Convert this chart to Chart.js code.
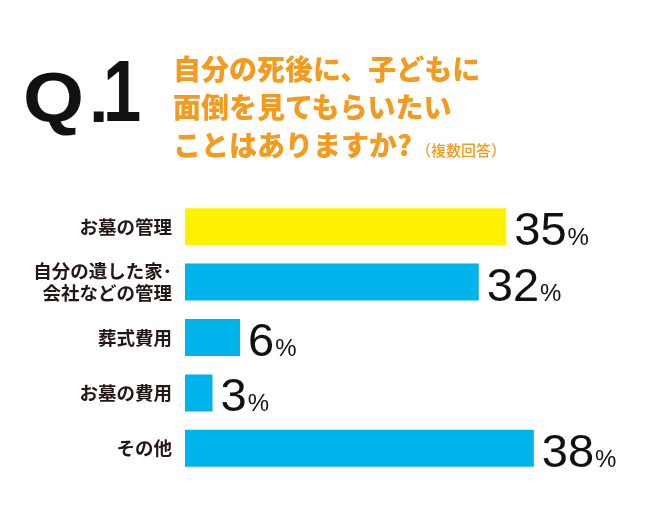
<!DOCTYPE html>
<html>
<head>
<meta charset="utf-8">
<script src="https://cdn.jsdelivr.net/npm/chart.js@4.4.0/dist/chart.umd.min.js"></script>
<style>
  html, body { margin: 0; padding: 0; background: #fff; }
  #wrap { position: relative; width: 650px; height: 522px; overflow: hidden; }
  #chartCanvas { position: absolute; left: 0; top: 0; }
  .q { position: absolute; font-family: "Liberation Sans", Arial, sans-serif; font-weight: bold; color: #111; line-height: 1; white-space: nowrap; transform-origin: 0 0; }
  .ttl { position: absolute; left: 173px; font-family: "Noto Sans CJK JP", sans-serif; font-weight: 900; font-size: 28px; line-height: 38px; color: #f39a1f; white-space: nowrap; }
  .note { font-size: 15px; font-weight: 500; margin-left: 4px; }
</style>
</head>
<body>
<div id="wrap">
  <canvas id="chartCanvas" width="650" height="522"></canvas>
  <div class="q" style="left:23px; top:63px; font-size:70px; transform:scaleX(1.12);">Q</div>
  <div class="q" style="left:89px; top:63px; font-size:70px;">.</div>
  <div class="q" style="left:103px; top:47px; font-size:88px; transform:scaleX(0.78);">1</div>
  <div class="ttl" style="top:49px;">自分の死後に、子どもに</div>
  <div class="ttl" style="top:87px;">面倒を見てもらいたい</div>
  <div class="ttl" style="top:125px;">ことはありますか?<span class="note">（複数回答）</span></div>
</div>
<script>
// answers (multiple choice), percent
const categories = ['お墓の管理', ['自分の遺した家･', '会社などの管理'], '葬式費用', 'お墓の費用', 'その他'];
const values = [35, 32, 6, 3, 38];

const YELLOW = '#fff100';
const CYAN = '#00b3ea';

// draws "35%" style labels after each bar
const valueLabels = {
    id: 'valueLabels',
    afterDatasetsDraw(chart) {
        const ctx = chart.ctx;
        const meta = chart.getDatasetMeta(0);
        ctx.save();
        ctx.fillStyle = '#111';
        ctx.textBaseline = 'alphabetic';
        ctx.textAlign = 'left';
        meta.data.forEach((bar, i) => {
            const num = String(values[i]);
            const x = bar.x + 8;
            const y = bar.y + bar.height / 2;
            ctx.font = '47px "Liberation Sans", Arial, sans-serif';
            ctx.fillText(num, x, y);
            const w = ctx.measureText(num).width;
            ctx.font = '24px "Liberation Sans", Arial, sans-serif';
            ctx.fillText('%', x + w + 1, y);
        });
        ctx.restore();
    }
};

const ctx = document.getElementById('chartCanvas').getContext('2d');
new Chart(ctx, {
    type: 'bar',
    data: {
        labels: categories,
        datasets: [{
            data: values,
            backgroundColor: (c) => c.dataIndex === 0 ? YELLOW : CYAN,
            borderWidth: 0,
            barPercentage: 1,
            categoryPercentage: 0.667,
        }],
    },
    options: {
        indexAxis: 'y',
        responsive: false,
        animation: false,
        layout: { padding: { top: 199, bottom: 46, right: 6, left: 0 } },
        plugins: {
            legend: { display: false },
            tooltip: { enabled: false },
        },
        scales: {
            x: {
                display: false,
                min: 0,
                max: 50,
            },
            y: {
                grid: { display: false },
                border: { display: false },
                ticks: {
                    padding: 5,
                    color: '#231815',
                    font: { family: '"Noto Sans CJK JP", sans-serif', size: 18.5, weight: 'bold', lineHeight: 1.2 },
                },
                afterFit(scale) { scale.width = 185; },
            },
        },
    },
    plugins: [valueLabels],
});
</script>
</body>
</html>
